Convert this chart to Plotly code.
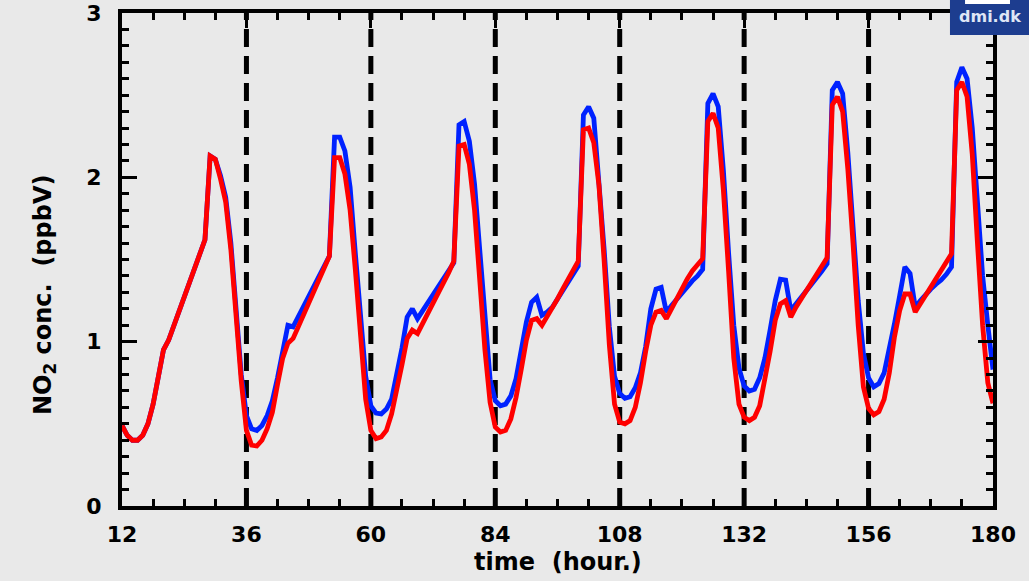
import plotly.graph_objects as go

# ---------------- data ----------------
hours = list(range(12, 181))

no2_blue = [
    0.49, 0.43, 0.40, 0.40, 0.43, 0.50, 0.62, 0.77, 0.95, 1.01, 1.10, 1.19,   # 12-23
    1.28, 1.36, 1.45, 1.53, 1.62, 2.13, 2.11, 2.01, 1.88, 1.60, 1.20, 0.80,   # 24-35
    0.55, 0.47, 0.46, 0.49, 0.55, 0.64, 0.78, 0.96, 1.10, 1.09, 1.15, 1.21,   # 36-47
    1.27, 1.33, 1.40, 1.46, 1.52, 2.245, 2.245, 2.16, 1.94, 1.54, 1.13, 0.79, # 48-59
    0.61, 0.565, 0.56, 0.59, 0.65, 0.79, 0.96, 1.15, 1.20, 1.14, 1.19, 1.24,  # 60-71
    1.29, 1.33, 1.38, 1.43, 1.48, 2.32, 2.34, 2.22, 1.96, 1.56, 1.15, 0.77,   # 72-83
    0.64, 0.61, 0.62, 0.67, 0.775, 0.94, 1.12, 1.24, 1.27, 1.16, 1.18, 1.21,  # 84-95
    1.26, 1.31, 1.36, 1.41, 1.46, 2.38, 2.43, 2.36, 2.00, 1.56, 1.09, 0.79,   # 96-107
    0.685, 0.655, 0.665, 0.72, 0.81, 0.97, 1.20, 1.32, 1.33, 1.18, 1.22, 1.26,# 108-119
    1.30, 1.33, 1.37, 1.40, 1.44, 2.45, 2.51, 2.43, 2.04, 1.54, 1.10, 0.84,   # 120-131
    0.73, 0.70, 0.71, 0.78, 0.90, 1.07, 1.25, 1.38, 1.375, 1.19, 1.23, 1.27,  # 132-143
    1.30, 1.35, 1.39, 1.43, 1.475, 2.53, 2.58, 2.51, 2.15, 1.66, 1.25, 0.93,  # 144-155
    0.78, 0.725, 0.745, 0.81, 0.95, 1.11, 1.28, 1.455, 1.415, 1.21, 1.25, 1.29,  # 156-167
    1.32, 1.35, 1.375, 1.41, 1.455, 2.58, 2.67, 2.60, 2.30, 1.85, 1.40, 1.10, # 168-179
    0.83,                                                                      # 180
]

no2_red = [
    0.49, 0.43, 0.40, 0.40, 0.43, 0.50, 0.62, 0.77, 0.95, 1.01, 1.10, 1.19,   # 12-23
    1.28, 1.36, 1.45, 1.53, 1.62, 2.13, 2.11, 1.99, 1.85, 1.56, 1.16, 0.76,   # 24-35
    0.46, 0.37, 0.365, 0.40, 0.47, 0.57, 0.74, 0.90, 0.99, 1.02, 1.09, 1.16,  # 36-47
    1.24, 1.31, 1.38, 1.45, 1.52, 2.12, 2.12, 2.02, 1.80, 1.44, 1.03, 0.65,   # 48-59
    0.46, 0.41, 0.42, 0.46, 0.56, 0.70, 0.86, 1.02, 1.07, 1.05, 1.11, 1.17,   # 60-71
    1.24, 1.30, 1.36, 1.42, 1.49, 2.19, 2.20, 2.08, 1.80, 1.35, 0.95, 0.63,   # 72-83
    0.48, 0.45, 0.46, 0.53, 0.66, 0.83, 1.01, 1.13, 1.14, 1.10, 1.15, 1.20,   # 84-95
    1.26, 1.32, 1.38, 1.44, 1.49, 2.29, 2.30, 2.21, 1.95, 1.49, 0.98, 0.62,   # 96-107
    0.51, 0.50, 0.52, 0.60, 0.75, 0.94, 1.10, 1.18, 1.19, 1.14, 1.20, 1.27,   # 108-119
    1.33, 1.38, 1.43, 1.47, 1.505, 2.34, 2.39, 2.30, 1.92, 1.43, 0.90, 0.62,  # 120-131
    0.54, 0.52, 0.54, 0.61, 0.76, 0.94, 1.13, 1.23, 1.25, 1.15, 1.21, 1.26,   # 132-143
    1.31, 1.35, 1.40, 1.45, 1.51, 2.44, 2.49, 2.40, 2.05, 1.60, 1.10, 0.725,  # 144-155
    0.594, 0.555, 0.575, 0.65, 0.81, 1.03, 1.19, 1.29, 1.29, 1.18, 1.23, 1.29,# 156-167
    1.33, 1.38, 1.43, 1.48, 1.535, 2.53, 2.58, 2.49, 2.14, 1.60, 1.10, 0.75,  # 168-179
    0.625,                                                                     # 180
]

day_lines = [36, 60, 84, 108, 132, 156]
x_ticks = [12, 36, 60, 84, 108, 132, 156, 180]
y_ticks = [0, 1, 2, 3]

x_title = "time  (hour.)"
y_title = "NO<sub>2</sub> conc.  (ppbV)"
logo_text = "dmi.dk"

# ---------------- figure ----------------
BG = "#e9e9e9"
FONT = "DejaVu Sans"

fig = go.Figure()

for d in day_lines:
    fig.add_vline(x=d, line=dict(color="black", width=5, dash="18px,9px"), layer="below")

fig.add_trace(go.Scatter(x=hours, y=no2_blue, mode="lines",
                         line=dict(color="#0022ff", width=4.8), name="blue"))
fig.add_trace(go.Scatter(x=hours, y=no2_red, mode="lines",
                         line=dict(color="#ff0000", width=4.8), name="red"))

fig.update_layout(
    width=1029, height=581,
    margin=dict(l=122, r=36, t=13, b=75, autoexpand=False),
    paper_bgcolor=BG, plot_bgcolor=BG,
    showlegend=False,
    font=dict(family=FONT, size=22, color="black"),
)

fig.update_xaxes(
    range=[12, 180], tickvals=x_ticks, ticktext=[str(t) for t in x_ticks],
    ticks="inside", ticklen=15, tickwidth=3, tickcolor="black",
    minor=dict(dtick=6, tick0=12, ticks="inside", ticklen=7, tickwidth=3, tickcolor="black"),
    showline=True, linewidth=4, linecolor="black", mirror="ticks",
    showgrid=False, zeroline=False, automargin=False,
    tickfont=dict(family=FONT, size=22, color="black", weight="bold"),
    ticklabelstandoff=6,
)
fig.update_yaxes(
    range=[0, 3], tickvals=y_ticks, ticktext=[str(t) for t in y_ticks],
    ticks="inside", ticklen=15, tickwidth=3, tickcolor="black",
    minor=dict(dtick=0.1, tick0=0, ticks="inside", ticklen=7, tickwidth=3, tickcolor="black"),
    showline=True, linewidth=4, linecolor="black", mirror="ticks",
    showgrid=False, zeroline=False, automargin=False,
    tickfont=dict(family=FONT, size=22, color="black", weight="bold"),
    ticklabelstandoff=12,
)

# axis titles as annotations (positioned like the original)
fig.add_annotation(text=y_title, xref="paper", yref="paper", x=-0.0884, y=0.428,
                   xanchor="center", yanchor="middle", textangle=-90, showarrow=False,
                   font=dict(family=FONT, size=24, color="black", weight="bold"))
fig.add_annotation(text=x_title, xref="paper", yref="paper", x=0.5, y=-0.1136,
                   xanchor="center", yanchor="middle", showarrow=False,
                   font=dict(family=FONT, size=24, color="black", weight="bold"))

# logo box
fig.add_shape(type="rect", xref="paper", yref="paper", x0=0.9506, x1=1.05, y0=0.9554, y1=1.05,
              fillcolor="#1d3d8f", line=dict(width=0), layer="above")
fig.add_shape(type="rect", xref="paper", yref="paper", x0=0.9679, x1=1.0195, y0=1.0183, y1=1.05,
              fillcolor="white", line=dict(width=0), layer="above")
fig.add_annotation(text=logo_text, xref="paper", yref="paper", x=0.9966, y=0.992,
                   xanchor="center", yanchor="middle", showarrow=False,
                   font=dict(family=FONT, size=16, color="#dfe6f5", weight="bold"))

fig.write_html("out.html")
